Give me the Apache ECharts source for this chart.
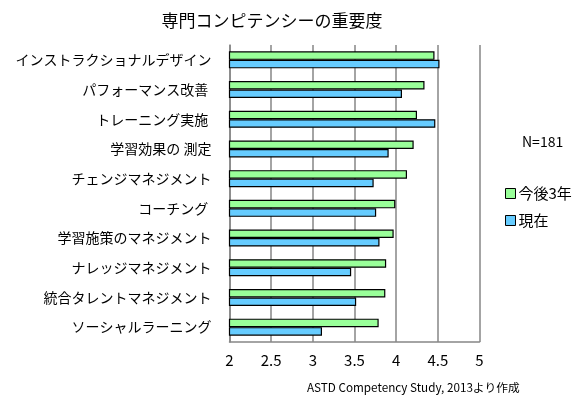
<!DOCTYPE html>
<html><head><meta charset="utf-8">
<script src="https://cdn.jsdelivr.net/npm/echarts@6/dist/echarts.min.js"></script>
<style>html,body{margin:0;padding:0;background:#fff}#c{width:587px;height:404px}</style>
</head><body><div id="c"></div>
<script>
const categories = ['インストラクショナルデザイン','パフォーマンス改善 ','トレーニング実施 ','学習効果の 測定','チェンジマネジメント','コーチング ','学習施策のマネジメント','ナレッジマネジメント','統合タレントマネジメント','ソーシャルラーニング'];
const future3y = [4.46, 4.34, 4.25, 4.21, 4.13, 3.99, 3.97, 3.88, 3.87, 3.79];
const current = [4.52, 4.07, 4.47, 3.91, 3.73, 3.76, 3.80, 3.46, 3.52, 3.11];
const seriesNames = ['今後3年', '現在'];
const xTicks = [2, 2.5, 3, 3.5, 4, 4.5, 5];
const FONT = '"Noto Sans CJK JP", "Noto Sans", sans-serif';
const chart = echarts.init(document.getElementById('c'), null, {renderer: 'canvas'});
chart.setOption({
  animation: false,
  textStyle: {fontFamily: FONT},
  title: [
    {text: '専門コンピテンシーの重要度', left: 267, textAlign: 'center', top: 7,
     textStyle: {fontFamily: FONT, fontSize: 17, fontWeight: 'normal', color: '#000'}},
    {text: 'N=181', left: 517, top: 130, textStyle: {fontFamily: FONT, fontSize: 14, fontWeight: 'normal', color: '#000'}},
    {text: 'ASTD Competency Study, 2013より作成', left: 302, top: 377, textStyle: {fontFamily: FONT, fontSize: 11.7, fontWeight: 'normal', color: '#000'}}
  ],
  legend: {
    orient: 'vertical', left: 500, top: 181, itemWidth: 10, itemHeight: 10, itemGap: 12,
    icon: 'rect',
    data: seriesNames,
    itemStyle: {borderColor: '#000', borderWidth: 1},
    textStyle: {fontFamily: FONT, fontSize: 15, color: '#000', padding: [0,0,0,-2]},
  },
  grid: {left: 229.5, right: 107.5, top: 45, bottom: 62},
  xAxis: {
    type: 'value', min: 2, max: 5, interval: 0.5,
    axisLine: {show: true, lineStyle: {color: '#868686', width: 1.5}},
    axisTick: {show: false},
    splitLine: {show: true, lineStyle: {color: '#868686', width: 1.5}},
    axisLabel: {fontFamily: FONT, fontSize: 15, color: '#000', margin: 11,
      formatter: v => xTicks.includes(v) ? String(v) : ''}
  },
  yAxis: {
    type: 'category', data: categories, inverse: true,
    axisLine: {show: true, lineStyle: {color: '#868686', width: 1.5}},
    axisTick: {show: false},
    axisLabel: {fontFamily: FONT, fontSize: 14, color: '#000', margin: 18}
  },
  series: [
    {name: seriesNames[0], type: 'bar', data: future3y, barWidth: 8.5, barGap: '0%',
     itemStyle: {color: '#99FF99', borderColor: '#000', borderWidth: 1.2}},
    {name: seriesNames[1], type: 'bar', data: current, barWidth: 8.5, barGap: '0%',
     itemStyle: {color: '#66CCFF', borderColor: '#000', borderWidth: 1.2}}
  ]
});
</script></body></html>
